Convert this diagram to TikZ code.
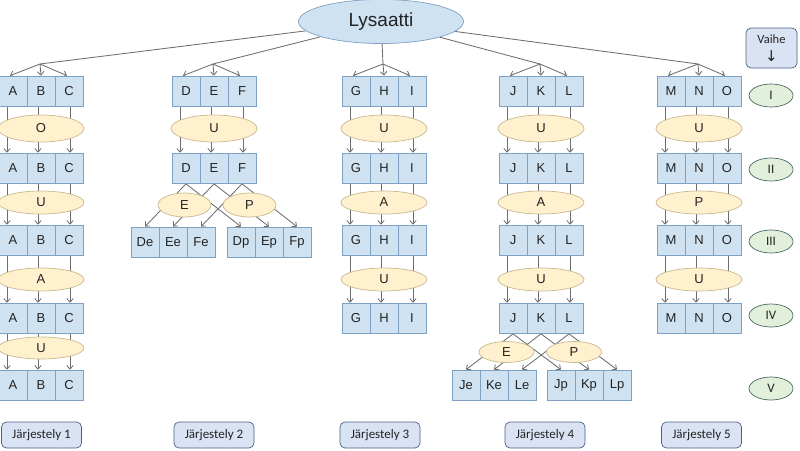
\documentclass[tikz,border=0pt]{standalone}
\usepackage{fontspec}
\setmainfont{Liberation Sans}
\newfontfamily\calfont{Carlito}
\newfontfamily\djfont{DejaVu Sans}
\usetikzlibrary{arrows.meta,shapes.geometric,calc}
\pgfdeclarelayer{bg}
\pgfsetlayers{bg,main}

\definecolor{cellfill}{RGB}{207,226,242}
\definecolor{celldraw}{RGB}{125,160,195}
\definecolor{opfill}{RGB}{255,241,205}
\definecolor{opdraw}{RGB}{200,185,145}
\definecolor{linec}{RGB}{110,110,110}
\definecolor{phfill}{RGB}{226,239,218}
\definecolor{phdraw}{RGB}{75,105,100}
\definecolor{tagfill}{RGB}{218,227,243}
\definecolor{tagdraw}{RGB}{75,95,135}
\definecolor{txt}{RGB}{35,35,35}

\tikzset{
  cell/.style={draw=celldraw, fill=cellfill, line width=0.7pt, minimum width=28pt,
    minimum height=30.5pt, inner sep=0pt, text=txt, font=\fontsize{13}{15}\selectfont},
  op/.style={ellipse, draw=opdraw, fill=opfill, line width=0.7pt, inner sep=0pt,
    text=txt, font=\fontsize{13}{15}\selectfont},
  conn/.style={draw=linec, line width=0.85pt},
  arr/.style={conn, -{Straight Barb[length=3.5pt,width=6.5pt]}},
  phase/.style={ellipse, draw=phdraw, fill=phfill, line width=0.7pt, inner sep=0pt,
    minimum width=44pt, minimum height=23pt, text=txt, font=\calfont\fontsize{13}{15}\selectfont},
  tag/.style={rectangle, rounded corners=5pt, draw=tagdraw, fill=tagfill, line width=0.7pt,
    inner sep=0pt, minimum width=80pt, minimum height=26pt, text=txt,
    font=\calfont\fontsize{13}{15}\selectfont},
}

\newcommand{\mytrio}[6]{%
  \node[cell] (#1a) at ({#2+14},{#3+15.25}) {#4};
  \node[cell] (#1b) at ({#2+42},{#3+15.25}) {#5};
  \node[cell] (#1c) at ({#2+70},{#3+15.25}) {#6};}
\newcommand{\mydown}[2]{%
  \draw[arr] ([xshift=-6pt]#1a.south) -- ([xshift=-6pt]#2a.north);
  \draw[arr] ([xshift=-3pt]#1b.south) -- ([xshift=-3pt]#2b.north);
  \draw[arr] ([xshift=1pt]#1c.south) -- ([xshift=1pt]#2c.north);}
\newcommand{\mytop}[2]{%
  \draw[conn] (lys) -- (#2);
  \draw[arr] (#2) -- ([xshift=-3pt]#1a.north);
  \draw[arr] (#2) -- (#1b.north);
  \draw[arr] (#2) -- ([xshift=-2pt]#1c.north);}
\newcommand{\mysplit}[3]{%
  \draw[arr] (#1a.south) -- (#2a.north);
  \draw[arr] (#1b.south) -- (#2b.north);
  \draw[arr] (#1c.south) -- (#2c.north);
  \draw[arr] (#1a.south) -- (#3a.north);
  \draw[arr] (#1b.south) -- (#3b.north);
  \draw[arr] (#1c.south) -- (#3c.north);}

\begin{document}
\begin{tikzpicture}[x=1pt,y=-1pt]
\useasboundingbox (0,0) rectangle (800,450);

% top
\node[ellipse, draw=celldraw, fill=cellfill, line width=0.7pt, minimum width=165pt,
  minimum height=44pt, inner sep=0pt, text=txt, font=\fontsize{19}{21}\selectfont]
  (lys) at (381,21.5) {Lysaatti};

% junctions
\coordinate (j1) at (40,64);
\coordinate (j2) at (213,64);
\coordinate (j3) at (383,64);
\coordinate (j4) at (540,64);
\coordinate (j5) at (698,64);

% column 1
\mytrio{aa}{-1}{76}{A}{B}{C}
\mytrio{ab}{-1}{153}{A}{B}{C}
\mytrio{ac}{-1}{225}{A}{B}{C}
\mytrio{ad}{-1}{303}{A}{B}{C}
\mytrio{ae}{-1}{370}{A}{B}{C}
\node[op, minimum width=86pt, minimum height=27pt] (ao1) at (41,128.5) {O};
\node[op, minimum width=86pt, minimum height=23pt] (ao2) at (41,202.5) {U};
\node[op, minimum width=86pt, minimum height=23pt] (ao3) at (41,279.5) {A};
\node[op, minimum width=86pt, minimum height=22pt] (ao4) at (41,348) {U};

% column 2
\mytrio{ba}{172}{76}{D}{E}{F}
\mytrio{bb}{172}{153}{D}{E}{F}
\node[op, minimum width=86pt, minimum height=27pt] (bo1) at (214,128.5) {U};
\node[op, minimum width=53pt, minimum height=24pt] (bE) at (184.5,205) {E};
\node[op, minimum width=53pt, minimum height=24pt] (bP) at (249.5,205) {P};
\mytrio{be}{131}{227}{De}{Ee}{Fe}
\mytrio{bp}{227}{227}{Dp}{Ep}{Fp}

% column 3
\mytrio{ca}{342}{76}{G}{H}{I}
\mytrio{cb}{342}{153}{G}{H}{I}
\mytrio{cc}{342}{225}{G}{H}{I}
\mytrio{cd}{342}{303}{G}{H}{I}
\node[op, minimum width=86pt, minimum height=27pt] (co1) at (384,128.5) {U};
\node[op, minimum width=86pt, minimum height=23pt] (co2) at (384,202.5) {A};
\node[op, minimum width=86pt, minimum height=23pt] (co3) at (384,279.5) {U};

% column 4
\mytrio{da}{499}{76}{J}{K}{L}
\mytrio{db}{499}{153}{J}{K}{L}
\mytrio{dc}{499}{225}{J}{K}{L}
\mytrio{dd}{499}{303}{J}{K}{L}
\node[op, minimum width=86pt, minimum height=27pt] (do1) at (541,128.5) {U};
\node[op, minimum width=86pt, minimum height=23pt] (do2) at (541,202.5) {A};
\node[op, minimum width=86pt, minimum height=23pt] (do3) at (541,279.5) {U};
\node[op, minimum width=55pt, minimum height=21pt] (dE) at (506.5,352) {E};
\node[op, minimum width=55pt, minimum height=21pt] (dP) at (574,352) {P};
\mytrio{de}{452}{370}{Je}{Ke}{Le}
\mytrio{dp}{547}{370}{Jp}{Kp}{Lp}

% column 5
\mytrio{ea}{657}{76}{M}{N}{O}
\mytrio{eb}{657}{153}{M}{N}{O}
\mytrio{ec}{657}{225}{M}{N}{O}
\mytrio{ed}{657}{303}{M}{N}{O}
\node[op, minimum width=86pt, minimum height=27pt] (eo1) at (699,128.5) {U};
\node[op, minimum width=86pt, minimum height=23pt] (eo2) at (699,202.5) {P};
\node[op, minimum width=86pt, minimum height=23pt] (eo3) at (699,279.5) {U};

% phase legend
\node[tag, minimum width=51pt, minimum height=40pt, align=center,
  font=\calfont\fontsize{12.5}{15}\selectfont] (vaihe) at (771.5,48)
  {Vaihe\\[3pt]{\djfont\fontsize{15}{15}\selectfont ↓}};
\node[phase] (p1) at (771,95.5) {I};
\node[phase] (p2) at (771,169.5) {II};
\node[phase] (p3) at (771,241.5) {III};
\node[phase] (p4) at (771,315.5) {IV};
\node[phase] (p5) at (771,388.5) {V};

% bottom tags
\node[tag] (t1) at (41.5,435) {Järjestely 1};
\node[tag] (t2) at (214,435) {Järjestely 2};
\node[tag] (t3) at (380,435) {Järjestely 3};
\node[tag] (t4) at (545,435) {Järjestely 4};
\node[tag] (t5) at (701.5,435) {Järjestely 5};

\begin{pgfonlayer}{bg}
  \mytop{aa}{j1}
  \mytop{ba}{j2}
  \mytop{ca}{j3}
  \mytop{da}{j4}
  \mytop{ea}{j5}
  \mydown{aa}{ab}\mydown{ab}{ac}\mydown{ac}{ad}\mydown{ad}{ae}
  \mydown{ba}{bb}
  \mysplit{bb}{be}{bp}
  \mydown{ca}{cb}\mydown{cb}{cc}\mydown{cc}{cd}
  \mydown{da}{db}\mydown{db}{dc}\mydown{dc}{dd}
  \mysplit{dd}{de}{dp}
  \mydown{ea}{eb}\mydown{eb}{ec}\mydown{ec}{ed}
\end{pgfonlayer}
\end{tikzpicture}
\end{document}
